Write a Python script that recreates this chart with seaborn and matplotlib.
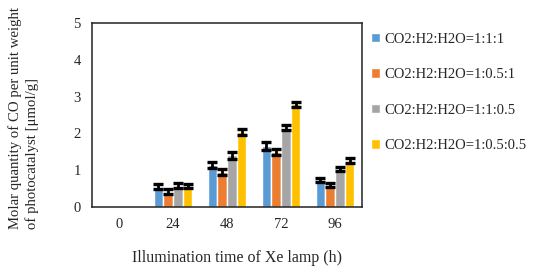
import numpy as np
import pandas as pd
import seaborn as sns
import matplotlib
import matplotlib.pyplot as plt
plt.switch_backend('agg')

# data
hours = ['0', '24', '48', '72', '96']
series = ['CO2:H2:H2O=1:1:1', 'CO2:H2:H2O=1:0.5:1',
          'CO2:H2:H2O=1:1:0.5', 'CO2:H2:H2O=1:0.5:0.5']
ratio_111 = [0.0, 0.55, 1.15, 1.65, 0.73]
ratio_1051 = [0.0, 0.42, 0.95, 1.49, 0.60]
ratio_1105 = [0.0, 0.58, 1.40, 2.15, 1.04]
ratio_10505 = [0.0, 0.57, 2.04, 2.79, 1.26]
err_111 = [0.0, 0.07, 0.08, 0.11, 0.06]
err_1051 = [0.0, 0.06, 0.09, 0.09, 0.05]
err_1105 = [0.0, 0.07, 0.09, 0.07, 0.05]
err_10505 = [0.0, 0.06, 0.07, 0.06, 0.06]
colors = ['#5B9BD5', '#ED7D31', '#A5A5A5', '#FFC000']

sns.set_style('white')
plt.rcParams['font.family'] = ['Liberation Serif', 'DejaVu Serif']

rows = []
for name, vals, errs in zip(series,
                            [ratio_111, ratio_1051, ratio_1105, ratio_10505],
                            [err_111, err_1051, err_1105, err_10505]):
    for h, v, e in zip(hours, vals, errs):
        rows.append({'hour': h, 'series': name, 'value': v, 'err': e})
df = pd.DataFrame(rows)

fig = plt.figure(figsize=(5.41, 2.74), dpi=100)
ax = fig.add_axes([92 / 541, 1 - 207 / 274, 270 / 541, 184 / 274])

sns.barplot(data=df, x='hour', y='value', hue='series', order=hours,
            hue_order=series, palette=colors, errorbar=None, width=0.72,
            saturation=1, ax=ax, legend=True)

# error bars on each bar centre (skip the zero group)
for cont, name in zip(ax.containers, series):
    sub = df[df['series'] == name].set_index('hour').loc[hours]
    for patch, v, e in zip(cont.patches, sub['value'], sub['err']):
        if v <= 0:
            continue
        xc = patch.get_x() + patch.get_width() / 2
        ax.errorbar(xc, v, yerr=e, fmt='none', ecolor='black',
                    elinewidth=2, capsize=3.5, capthick=2.4)

ax.set_ylim(0, 5)
ax.set_yticks(range(6))
ax.set_xlim(-0.5, 4.5)
ax.tick_params(axis='both', length=0, labelsize=10.5, pad=8)
ax.set_xlabel('Illumination time of Xe lamp (h)', fontsize=11.5)
ax.xaxis.set_label_coords((237 - 92) / 270, -0.235)
ax.set_ylabel('Molar quantity of CO per unit weight\nof photocatalyst [\u03bcmol/g]',
              fontsize=10.6, linespacing=1.3, multialignment='left')
ax.yaxis.set_label_coords(-0.255, 0.485)
ax.yaxis.label.set_va('center')
for s in ax.spines.values():
    s.set_color('#222222')
    s.set_linewidth(1.1)

ax.legend(loc='upper left', bbox_to_anchor=(1.01, 0.98), frameon=False,
          fontsize=10.5, handlelength=0.65, handleheight=0.65, handletextpad=0.3,
          labelspacing=1.55, borderaxespad=0)

fig.savefig('out.png', dpi=100)
